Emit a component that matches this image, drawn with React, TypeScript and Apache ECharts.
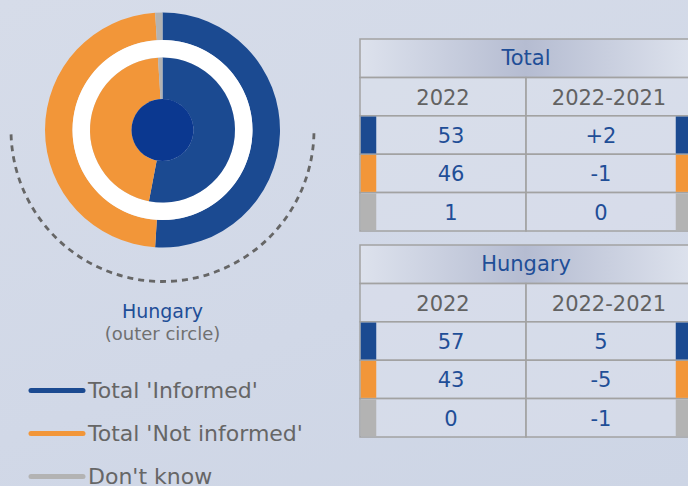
import React, { useEffect, useRef } from "react";
import * as echarts from "echarts";

// ---- data ----
const categories = ["Total 'Informed'", "Total 'Not informed'", "Don't know"];
const categoryColors = ["#1b4a91", "#f29639", "#b3b3b3"];
const outerRing = [51, 48, 1];
const innerRing = [53, 46, 1];
const columnHeaders = ["2022", "2022-2021"];
const totalTitle = "Total";
const total2022 = ["53", "46", "1"];
const totalChange = ["+2", "-1", "0"];
const hungaryTitle = "Hungary";
const hungary2022 = ["57", "43", "0"];
const hungaryChange = ["5", "-5", "-1"];
const ringTitle = "Hungary";
const ringSubtitle = "(outer circle)";

const FONT = "DejaVu Sans, Verdana, sans-serif";
const BLUE_TEXT = "#1f4e97";
const GREY_TEXT = "#626262";

function buildTable(top: number, title: string, col1: string[], col2: string[]) {
  const x = 360;
  const w = 332;
  const rowH = 38.4;
  const colW = w / 2;
  const barW = 16;
  const els: any[] = [];
  const border = "#a2a2a2";
  // header
  els.push({
    type: "rect",
    shape: { x, y: top, width: w, height: rowH },
    style: {
      fill: new echarts.graphic.LinearGradient(0, 0, 1, 0, [
        { offset: 0, color: "#dde2ed" },
        { offset: 0.5, color: "#b5bcd1" },
        { offset: 1, color: "#dde2ed" },
      ]),
      stroke: border,
      lineWidth: 1.5,
    },
  });
  els.push({
    type: "text",
    style: {
      text: title,
      x: x + w / 2,
      y: top + rowH / 2,
      font: `21px ${FONT}`,
      fill: BLUE_TEXT,
      textAlign: "center",
      textVerticalAlign: "middle",
    },
  });
  // rows: header row + 3 data rows
  for (let r = 0; r < 4; r++) {
    const y = top + rowH * (r + 1);
    for (let c = 0; c < 2; c++) {
      els.push({
        type: "rect",
        shape: { x: x + c * colW, y, width: colW, height: rowH },
        style: { fill: "rgba(222,227,238,0.45)", stroke: border, lineWidth: 1.5 },
      });
      const txt = r === 0 ? columnHeaders[c] : c === 0 ? col1[r - 1] : col2[r - 1];
      let tx = x + c * colW + colW / 2;
      if (r > 0) tx += c === 0 ? barW / 2 : -barW / 2;
      els.push({
        type: "text",
        z: 5,
        style: {
          text: txt,
          x: tx,
          y: y + rowH / 2 + 1,
          font: `21px ${FONT}`,
          fill: r === 0 ? GREY_TEXT : BLUE_TEXT,
          textAlign: "center",
          textVerticalAlign: "middle",
        },
      });
    }
    if (r > 0) {
      const col = categoryColors[r - 1];
      els.push({
        type: "rect",
        z: 4,
        shape: { x: x + 0.75, y: y + 0.75, width: barW - 0.5, height: rowH - 1.5 },
        style: { fill: col },
      });
      els.push({
        type: "rect",
        z: 4,
        shape: { x: x + w - barW - 0.25, y: y + 0.75, width: barW - 0.5, height: rowH - 1.5 },
        style: { fill: col },
      });
    }
  }
  return els;
}

export default function App() {
  const ref = useRef<HTMLDivElement>(null);
  useEffect(() => {
    document.body.style.margin = "0";
    const chart = echarts.init(ref.current!, null, { renderer: "svg" });
    const cx = 162.5;
    const cy = 130;

    const legendEls: any[] = [];
    categories.forEach((name, i) => {
      const y = 390.5 + i * 43;
      legendEls.push({
        type: "line",
        shape: { x1: 31, y1: y, x2: 83, y2: y },
        style: { stroke: categoryColors[i], lineWidth: 5, lineCap: "round" },
      });
      legendEls.push({
        type: "text",
        style: {
          text: name,
          x: 88,
          y: y,
          font: `22px ${FONT}`,
          fill: "#666666",
          textAlign: "left",
          textVerticalAlign: "middle",
        },
      });
    });

    chart.setOption({
      animation: false,
      series: [
        {
          type: "pie",
          silent: true,
          center: [cx, cy],
          radius: [90, 117.5],
          startAngle: 90,
          clockwise: true,
          label: { show: false },
          labelLine: { show: false },
          itemStyle: { borderWidth: 0 },
          data: outerRing.map((v, i) => ({ name: categories[i], value: v, itemStyle: { color: categoryColors[i] } })),
        },
        {
          type: "pie",
          silent: true,
          center: [cx, cy],
          radius: [72.5, 90],
          label: { show: false },
          labelLine: { show: false },
          data: [{ name: "gap", value: 1, itemStyle: { color: "#ffffff" } }],
        },
        {
          type: "pie",
          silent: true,
          center: [cx, cy],
          radius: [31, 72.5],
          startAngle: 90,
          clockwise: true,
          label: { show: false },
          labelLine: { show: false },
          itemStyle: { borderWidth: 0 },
          data: innerRing.map((v, i) => ({ name: categories[i], value: v, itemStyle: { color: categoryColors[i] } })),
        },
        {
          type: "pie",
          silent: true,
          center: [cx, cy],
          radius: [0, 31],
          label: { show: false },
          labelLine: { show: false },
          data: [{ name: "core", value: 1, itemStyle: { color: "#0b3890" } }],
        },
      ],
      graphic: [
        {
          type: "arc",
          shape: { cx, cy, r: 151.5, startAngle: 0.022, endAngle: Math.PI - 0.022, clockwise: true },
          style: { stroke: "#666666", lineWidth: 2.8, lineDash: [6, 5], fill: "none" },
        },
        {
          type: "text",
          style: {
            text: ringTitle,
            x: cx,
            y: 311,
            font: `19px ${FONT}`,
            fill: BLUE_TEXT,
            textAlign: "center",
            textVerticalAlign: "middle",
          },
        },
        {
          type: "text",
          style: {
            text: ringSubtitle,
            x: cx,
            y: 333,
            font: `18px ${FONT}`,
            fill: "#707070",
            textAlign: "center",
            textVerticalAlign: "middle",
          },
        },
        ...legendEls,
        ...buildTable(39, totalTitle, total2022, totalChange),
        ...buildTable(245, hungaryTitle, hungary2022, hungaryChange),
      ],
    });
    return () => chart.dispose();
  }, []);
  return (
    <div
      ref={ref}
      style={{
        position: "fixed",
        left: 0,
        top: 0,
        width: 688,
        height: 486,
        background: "linear-gradient(160deg, #d6dce9 0%, #d1d8e7 60%, #cdd5e5 100%)",
      }}
    />
  );
}
